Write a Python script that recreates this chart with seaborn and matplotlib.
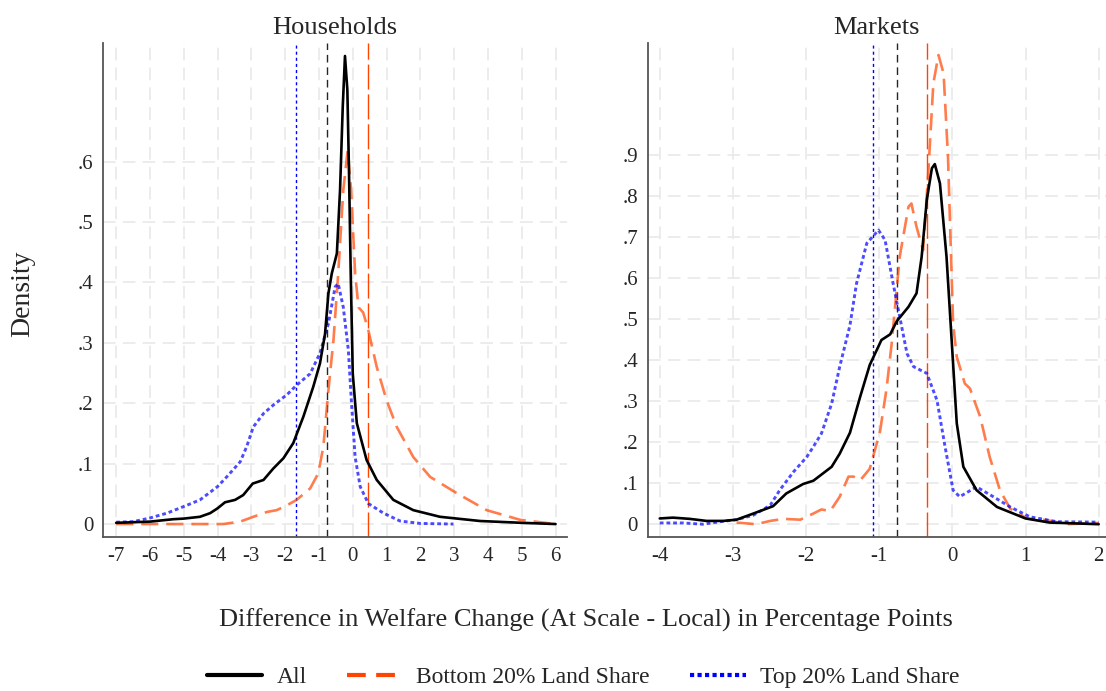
import numpy as np
import pandas as pd
import seaborn as sns
import matplotlib
matplotlib.use("Agg")
import matplotlib.pyplot as plt
from matplotlib.lines import Line2D

# --- values ----------------------------------------------------------------
# Households panel
hh_all_x = [-7.0, -6.0, -5.31, -5.0, -4.52, -4.22, -4.0, -3.78, -3.48, -3.24, -2.96, -2.64,
            -2.35, -2.05, -1.76, -1.46, -1.17, -0.97, -0.82, -0.72, -0.62, -0.47, -0.376,
            -0.296, -0.23, -0.16, -0.11, -0.06, 0.0, 0.12, 0.41, 0.71, 1.20, 1.79, 2.58,
            3.77, 5.0, 6.0]
hh_all_y = [0.002, 0.004, 0.008, 0.009, 0.012, 0.018, 0.026, 0.036, 0.040, 0.048, 0.067, 0.073,
            0.092, 0.109, 0.134, 0.178, 0.227, 0.266, 0.315, 0.382, 0.415, 0.448, 0.553,
            0.691, 0.775, 0.719, 0.580, 0.415, 0.249, 0.167, 0.106, 0.073, 0.040, 0.023, 0.012,
            0.005, 0.002, 0.0]

hh_bot_x = [-7.0, -6.0, -5.0, -3.83, -3.33, -2.94, -2.54, -2.25, -1.95, -1.66, -1.26, -1.02,
            -0.87, -0.72, -0.57, -0.43, -0.28, -0.15, -0.05, 0.07, 0.17, 0.31, 0.46, 0.71,
            1.0, 1.30, 1.79, 2.29, 3.08, 3.96, 4.95, 6.0]
hh_bot_y = [0.0, 0.0, 0.0, 0.0, 0.004, 0.012, 0.020, 0.023, 0.031, 0.040, 0.059, 0.084,
            0.128, 0.222, 0.305, 0.415, 0.553, 0.619, 0.553, 0.415, 0.359, 0.350, 0.321, 0.260,
            0.205, 0.161, 0.111, 0.078, 0.051, 0.023, 0.007, 0.0]

hh_top_x = [-7.0, -6.49, -6.0, -5.5, -5.0, -4.52, -4.0, -3.73, -3.33, -3.14, -2.94, -2.64,
            -2.35, -1.95, -1.66, -1.26, -0.97, -0.72, -0.52, -0.43, -0.28, -0.13, -0.03,
            0.07, 0.22, 0.46, 0.91, 1.40, 1.99, 2.98]
hh_top_y = [0.003, 0.004, 0.010, 0.018, 0.029, 0.040, 0.062, 0.078, 0.103, 0.128, 0.161, 0.183,
            0.197, 0.214, 0.230, 0.249, 0.283, 0.332, 0.393, 0.398, 0.359, 0.288, 0.194,
            0.111, 0.062, 0.034, 0.018, 0.005, 0.001, 0.0]

hh_means = {"All": -0.77, "Bottom": 0.45, "Top": -1.69}

# Markets panel
mk_all_x = [-4.0, -3.82, -3.59, -3.36, -3.13, -2.95, -2.72, -2.45, -2.27, -2.04, -1.90, -1.65,
            -1.54, -1.40, -1.26, -1.13, -0.97, -0.85, -0.76, -0.60, -0.49, -0.42, -0.35,
            -0.28, -0.24, -0.17, -0.08, -0.01, 0.06, 0.15, 0.33, 0.61, 1.0, 1.33, 2.0]
mk_all_y = [0.014, 0.016, 0.013, 0.008, 0.008, 0.011, 0.026, 0.044, 0.075, 0.098, 0.106, 0.140,
            0.172, 0.223, 0.311, 0.388, 0.449, 0.463, 0.495, 0.530, 0.563, 0.652, 0.790,
            0.868, 0.878, 0.831, 0.652, 0.449, 0.246, 0.140, 0.083, 0.042, 0.014, 0.004, 0.0]

mk_bot_x = [-2.95, -2.68, -2.49, -2.31, -2.08, -1.90, -1.79, -1.67, -1.54, -1.42, -1.35, -1.26,
            -1.13, -0.99, -0.90, -0.83, -0.72, -0.60, -0.56, -0.49, -0.40, -0.33, -0.26,
            -0.19, -0.12, -0.06, 0.01, 0.06, 0.17, 0.24, 0.38, 0.51, 0.65, 0.79, 1.02, 1.29,
            1.56, 2.0]
mk_bot_y = [0.004, 0.0, 0.008, 0.013, 0.011, 0.026, 0.036, 0.032, 0.067, 0.116, 0.116, 0.107,
            0.135, 0.225, 0.330, 0.440, 0.652, 0.774, 0.782, 0.725, 0.668, 0.855, 1.075,
            1.144, 1.099, 0.896, 0.490, 0.408, 0.343, 0.331, 0.262, 0.164, 0.083, 0.038, 0.014, 0.010,
            0.0, 0.003]

mk_top_x = [-4.0, -3.68, -3.41, -3.18, -2.95, -2.72, -2.49, -2.36, -2.17, -1.99, -1.90, -1.79,
            -1.65, -1.54, -1.40, -1.31, -1.17, -1.01, -0.92, -0.81, -0.72, -0.62, -0.53,
            -0.35, -0.21, -0.10, 0.01, 0.10, 0.33, 0.56, 0.79, 1.06, 1.43, 2.0]
mk_top_y = [0.003, 0.003, 0.0, 0.006, 0.011, 0.022, 0.046, 0.083, 0.128, 0.164, 0.189, 0.221,
            0.294, 0.384, 0.485, 0.587, 0.685, 0.717, 0.693, 0.587, 0.506, 0.416, 0.384,
            0.368, 0.302, 0.189, 0.083, 0.067, 0.091, 0.067, 0.042, 0.018, 0.006, 0.005]

mk_means = {"All": -0.76, "Bottom": -0.35, "Top": -1.08}

hh_xticks = list(range(-7, 7))
hh_yticks = [0, 0.1, 0.2, 0.3, 0.4, 0.5, 0.6]
mk_xticks = list(range(-4, 3))
mk_yticks = [0, 0.1, 0.2, 0.3, 0.4, 0.5, 0.6, 0.7, 0.8, 0.9]

legend_labels = ["All", "Bottom 20% Land Share", "Top 20% Land Share"]

# --- styling ---------------------------------------------------------------
sns.set_style("white")
plt.rcParams["font.family"] = ["Liberation Serif", "DejaVu Serif"]
plt.rcParams["axes.unicode_minus"] = False

BLACK = "#000000"
ORANGE = "#FF4500"
BLUE = "#0000FF"
GRID = "#EAEAEA"
SPINE = "#555555"


def ylab(v):
    if v == 0:
        return "0"
    return ("%.1f" % v).lstrip("0")


def draw_panel(ax, title, all_x, all_y, bot_x, bot_y, top_x, top_y, means,
               xticks, yticks, xlim, ylim):
    # gridlines first so curves sit on top
    for t in xticks:
        ax.axvline(t, color=GRID, lw=1.3, dashes=(7, 4), zorder=0)
    for t in yticks:
        ax.axhline(t, color=GRID, lw=1.3, dashes=(7, 4), zorder=0)

    sns.lineplot(x=all_x, y=all_y, ax=ax, color=BLACK, lw=1.9, sort=False,
                 estimator=None, zorder=4)
    l2 = sns.lineplot(x=bot_x, y=bot_y, ax=ax, color=ORANGE, lw=1.9, alpha=0.7,
                      sort=False, estimator=None, zorder=3)
    l2.lines[-1].set_dashes((6.5, 3))
    l3 = sns.lineplot(x=top_x, y=top_y, ax=ax, color=BLUE, lw=2.1, alpha=0.7,
                      sort=False, estimator=None, zorder=3)
    l3.lines[-1].set_dashes((1.3, 1.0))

    ax.axvline(means["Top"], color=BLUE, lw=1.0, dashes=(2.2, 2.2), zorder=2)
    ax.axvline(means["All"], color=BLACK, lw=1.0, dashes=(5.5, 3.5), zorder=2, alpha=0.85)
    ax.axvline(means["Bottom"], color=ORANGE, lw=1.0, dashes=(18, 3.5), zorder=2)

    ax.set_xlim(*xlim)
    ax.set_ylim(*ylim)
    ax.set_xticks(xticks)
    ax.set_xticklabels([str(t) for t in xticks])
    ax.set_yticks(yticks)
    ax.set_yticklabels([ylab(t) for t in yticks])
    ax.tick_params(axis="both", direction="out", length=5, width=1.0, color=SPINE,
                   labelsize=15, pad=2)
    for side in ["top", "right"]:
        ax.spines[side].set_visible(False)
    for side in ["left", "bottom"]:
        ax.spines[side].set_color(SPINE)
        ax.spines[side].set_linewidth(1.3)
    ax.set_xlabel("")
    ax.set_ylabel("")
    ax.set_title(title, fontsize=19, pad=6)


fig = plt.figure(figsize=(11.06, 6.91), dpi=100)
ax1 = fig.add_axes([0.0931, 0.2224, 0.4193, 0.7158])
ax2 = fig.add_axes([0.5856, 0.2224, 0.4144, 0.7158])

draw_panel(ax1, "Households", hh_all_x, hh_all_y, hh_bot_x, hh_bot_y, hh_top_x, hh_top_y,
           hh_means, hh_xticks, hh_yticks, (-7.39, 6.33), (-0.022, 0.797))
draw_panel(ax2, "Markets", mk_all_x, mk_all_y, mk_bot_x, mk_bot_y, mk_top_x, mk_top_y,
           mk_means, mk_xticks, mk_yticks, (-4.165, 2.10), (-0.032, 1.174))

fig.text(23 / 1106, 1 - 294 / 691, "Density", rotation=90, fontsize=20,
         ha="center", va="center")
fig.text(586 / 1106, 1 - 620 / 691,
         "Difference in Welfare Change (At Scale - Local) in Percentage Points",
         fontsize=19, ha="center", va="center")

handles = [
    Line2D([], [], color=BLACK, lw=3.0),
    Line2D([], [], color=ORANGE, lw=3.0, dashes=(4.5, 2.5)),
    Line2D([], [], color=BLUE, lw=3.0, dashes=(1.0, 0.8)),
]
fig.legend(handles, legend_labels, loc="center", bbox_to_anchor=(583 / 1106, 1 - 677 / 691),
           ncol=3, frameon=False, fontsize=17, handlelength=2.35, handletextpad=0.6,
           columnspacing=1.7)

fig.savefig("out.png", dpi=100)
